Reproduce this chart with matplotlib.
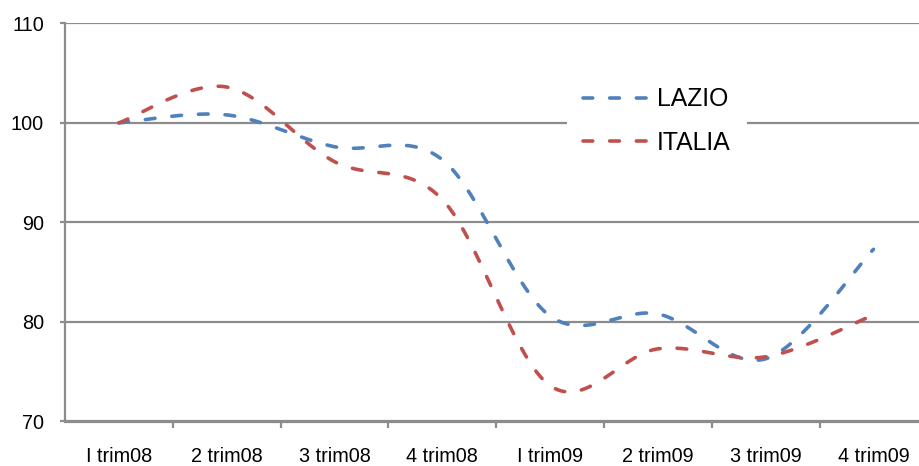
import numpy as np
import matplotlib
matplotlib.use("Agg")
import matplotlib.pyplot as plt
from matplotlib.ticker import FixedLocator, NullFormatter, FixedFormatter

plt.rcParams['font.family'] = ['Liberation Sans', 'DejaVu Sans']
plt.rcParams['lines.scale_dashes'] = False

categories = ["I trim08", "2 trim08", "3 trim08", "4 trim08",
              "I trim09", "2 trim09", "3 trim09", "4 trim09"]
lazio = [100.0, 100.8, 97.6, 96.3, 80.6, 80.8, 76.3, 87.3]
italia = [100.0, 103.6, 96.1, 92.3, 73.6, 77.3, 76.5, 80.7]
y_ticks = [70, 80, 90, 100, 110]

BLUE = "#4F81BD"
RED = "#C0504D"
GRID = "#8C8C8C"


def smooth(xs, ys, n=40):
    """Excel-like smoothed line: parametric Catmull-Rom Bezier segments."""
    P = np.column_stack([xs, ys]).astype(float)
    out = []
    m = len(P)
    t = np.linspace(0, 1, n)
    for i in range(m - 1):
        a = P[i - 1] if i > 0 else P[i]
        b = P[i]
        c = P[i + 1]
        d = P[i + 2] if i + 2 < m else P[i + 1]
        c1 = b + (c - a) / 6.0
        c2 = c - (d - b) / 6.0
        seg = ((1 - t) ** 3)[:, None] * b + (3 * (1 - t) ** 2 * t)[:, None] * c1 \
            + (3 * (1 - t) * t ** 2)[:, None] * c2 + (t ** 3)[:, None] * c
        out.append(seg if i == 0 else seg[1:])
    out = np.vstack(out)
    return out[:, 0], out[:, 1]


W, H = 919, 466
fig = plt.figure(figsize=(W / 100, H / 100), dpi=100)
left_px, right_px, top_px, bot_px = 65, 919, 23.3, 421.5
ax = fig.add_axes([left_px / W, 1 - bot_px / H, (right_px - left_px) / W, (bot_px - top_px) / H])

cat_w = 107.8
x = np.arange(len(categories))
ax.set_xlim(-0.5, -0.5 + (right_px - left_px) / cat_w)
ax.set_ylim(70, 110)

dash = (7.0, 12.2)
lw = 2.6
for vals, col, lab in [(lazio, BLUE, "LAZIO"), (italia, RED, "ITALIA")]:
    sx, sy = smooth(x, vals)
    ax.plot(sx, sy, color=col, lw=lw, dashes=dash, dash_capstyle='round',
            label=lab, clip_on=False, zorder=3)

# grid
ax.set_yticks(y_ticks)
ax.yaxis.grid(True, color=GRID, lw=1.6)
ax.set_axisbelow(True)
for s in ['top', 'right']:
    ax.spines[s].set_visible(False)
for s in ['left', 'bottom']:
    ax.spines[s].set_color(GRID)
    ax.spines[s].set_linewidth(1.6)

ax.tick_params(axis='y', length=3.6, width=1.6, color=GRID, pad=11.5, labelsize=14.3, labelcolor='black')

ax.xaxis.set_major_locator(FixedLocator(np.arange(len(categories)) + 0.5))
ax.xaxis.set_major_formatter(NullFormatter())
ax.xaxis.set_minor_locator(FixedLocator(x))
ax.xaxis.set_minor_formatter(FixedFormatter(categories))
ax.tick_params(axis='x', which='major', length=4, width=1.6, color=GRID)
ax.tick_params(axis='x', which='minor', length=0, pad=18, labelsize=14.3, labelcolor='black')

leg = ax.legend(loc='center left', bbox_to_anchor=(567 / W, 1 - 121 / H),
                bbox_transform=fig.transFigure, borderaxespad=0,
                fontsize=17.8, handlelength=2.7, handletextpad=0.28,
                labelspacing=0.78, borderpad=0.65, frameon=True,
                fancybox=False, framealpha=1, facecolor='white', edgecolor='none')

fig.savefig("out.png", dpi=100)
